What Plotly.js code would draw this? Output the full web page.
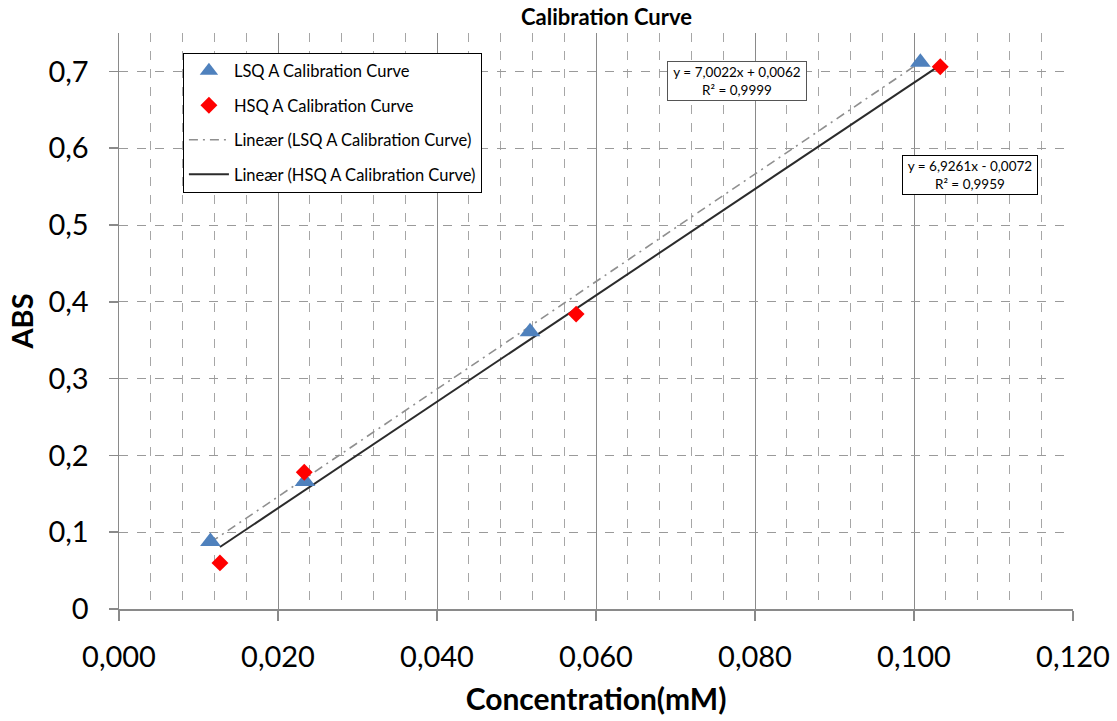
<!DOCTYPE html>
<html>
<head>
<meta charset="utf-8">
<script src="https://cdn.plot.ly/plotly-3.0.1.min.js"></script>
<style>html,body{margin:0;padding:0;background:#fff;}#chart{width:1117px;height:721px;}</style>
</head>
<body>
<div id="chart"></div>
<script>
const lsqConc = [0.0115, 0.0234, 0.0517, 0.1008];
const lsqAbs = [0.088, 0.166, 0.361, 0.712];
const hsqConc = [0.0127, 0.0233, 0.0575, 0.1033];
const hsqAbs = [0.060, 0.178, 0.384, 0.706];
const lsqFit = {slope: 7.0022, intercept: 0.0062, r2: '0,9999', label: 'y = 7,0022x + 0,0062'};
const hsqFit = {slope: 6.9261, intercept: -0.0072, r2: '0,9959', label: 'y = 6,9261x - 0,0072'};
const seriesNames = ['LSQ A Calibration Curve', 'HSQ A Calibration Curve', 'Lineær (LSQ A Calibration Curve)', 'Lineær (HSQ A Calibration Curve)'];

function fitLine(xs, fit) {
  const x0 = Math.min(...xs), x1 = Math.max(...xs);
  return {x: [x0, x1], y: [fit.slope * x0 + fit.intercept, fit.slope * x1 + fit.intercept]};
}
const lsqLine = fitLine(lsqConc, lsqFit);
const hsqLine = fitLine(hsqConc, hsqFit);

const font = 'Lato, "Open Sans", sans-serif';

const traces = [
  {x: lsqLine.x, y: lsqLine.y, mode: 'lines', name: seriesNames[2], legendgroup: 'c', legendrank: 3,
   line: {color: '#8f8f8f', width: 1.6, dash: '9px,5px,2px,5px'}},
  {x: hsqLine.x, y: hsqLine.y, mode: 'lines', name: seriesNames[3], legendgroup: 'd', legendrank: 4,
   line: {color: '#2b2b2b', width: 2}},
  {x: lsqConc, y: lsqAbs, mode: 'markers', name: seriesNames[0], legendgroup: 'a', legendrank: 1,
   marker: {symbol: 'triangle-up', size: 18, color: '#4F81BD'}},
  {x: hsqConc, y: hsqAbs, mode: 'markers', name: seriesNames[1], legendgroup: 'b', legendrank: 2,
   marker: {symbol: 'diamond', size: 13, color: '#FF0000'}}
];

const layout = {
  width: 1117, height: 721,
  margin: {l: 119, r: 44, t: 33, b: 112, pad: 0},
  paper_bgcolor: '#ffffff', plot_bgcolor: '#ffffff',
  separators: ',.',
  font: {family: font, color: '#000'},
  title: {text: '<b>Calibration Curve</b>', font: {size: 22, family: font, color: '#000'}, x: 0.543, xanchor: 'center', y: 0.976, yanchor: 'middle'},
  showlegend: true,
  legend: {x: 0.067, y: 0.966, xanchor: 'left', yanchor: 'top', bgcolor: '#ffffff', bordercolor: '#000', borderwidth: 1,
           font: {size: 16.5, family: font, color: '#000'}, traceorder: 'grouped', tracegroupgap: 10, itemwidth: 40},
  xaxis: {
    range: [0, 0.12], dtick: 0.02, tick0: 0, tickformat: '.3f',
    showgrid: true, gridcolor: '#8a8a8a', gridwidth: 1,
    minor: {dtick: 0.004, showgrid: true, gridcolor: '#a6a6a6', griddash: 'dash', gridwidth: 1},
    showline: true, linecolor: '#8a8a8a', linewidth: 1.5, zeroline: false,
    ticks: 'outside', ticklen: 10, tickcolor: '#8a8a8a', tickwidth: 1.5, ticklabelstandoff: 12,
    tickfont: {size: 29, family: font, color: '#000'},
    title: {text: '<b>Concentration(mM)</b>', font: {size: 30, family: font, color: '#000'}, standoff: 16},
    automargin: false
  },
  yaxis: {
    range: [0, 0.75], dtick: 0.1, tick0: 0,
    showgrid: true, gridcolor: '#9a9a9a', griddash: 'dash', gridwidth: 1,
    showline: true, linecolor: '#8a8a8a', linewidth: 1.5, zeroline: false,
    ticks: 'outside', ticklen: 9, tickcolor: '#8a8a8a', tickwidth: 1.5, ticklabelstandoff: 14,
    tickfont: {size: 29, family: font, color: '#000'},
    title: {text: '<b>ABS</b>', font: {size: 29, family: font, color: '#000'}, standoff: 6},
    automargin: false
  },
  annotations: [
    {xref: 'paper', yref: 'paper', x: (737 - 119) / 954, y: (609 - 81.5) / 576, xanchor: 'center', yanchor: 'middle',
     text: lsqFit.label + '<br>R² = ' + lsqFit.r2, showarrow: false, align: 'center',
     font: {size: 13.5, family: font, color: '#000'}, bgcolor: '#ffffff', bordercolor: '#555', borderwidth: 1, borderpad: 2, width: 134},
    {xref: 'paper', yref: 'paper', x: (970 - 119) / 954, y: (609 - 174.5) / 576, xanchor: 'center', yanchor: 'middle',
     text: hsqFit.label + '<br>R² = ' + hsqFit.r2, showarrow: false, align: 'center',
     font: {size: 13.5, family: font, color: '#000'}, bgcolor: '#ffffff', bordercolor: '#000', borderwidth: 1, borderpad: 2, width: 130}
  ]
};

Plotly.newPlot('chart', traces, layout, {displayModeBar: false, staticPlot: true});
</script>
</body>
</html>
